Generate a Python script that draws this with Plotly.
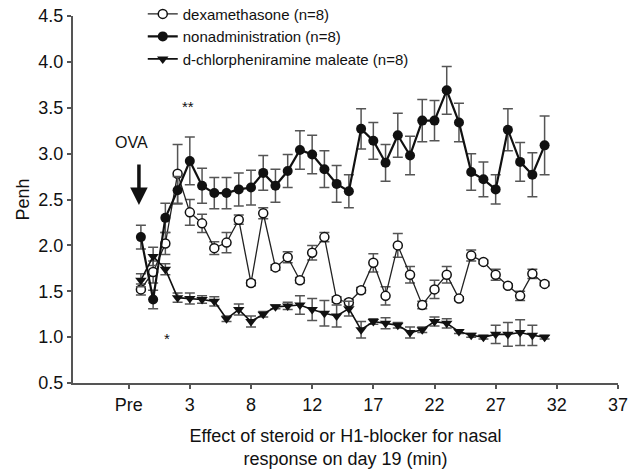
import plotly.graph_objects as go

# Positions of the 34 measurement points (one per minute, index from first point)
x_pos = list(range(34))

tick_vals = [-1, 4, 9, 14, 19, 24, 29, 34, 39]
tick_text = ["Pre", "3", "8", "12", "17", "22", "27", "32", "37"]

dexa = [1.52, 1.71, 2.02, 2.78, 2.36, 2.24, 1.97, 2.03, 2.28, 1.59, 2.35, 1.76, 1.87, 1.62,
        1.92, 2.09, 1.41, 1.38, 1.51, 1.81, 1.45, 2.00, 1.68, 1.35, 1.52, 1.68, 1.42, 1.89,
        1.82, 1.68, 1.56, 1.45, 1.69, 1.58]
dexa_err = [0.06, 0.12, 0.12, 0.32, 0.14, 0.10, 0.07, 0.11, 0.05, 0.03, 0.06, 0.03, 0.06, 0.03,
            0.08, 0.05, 0.03, 0.03, 0.03, 0.10, 0.10, 0.13, 0.09, 0.04, 0.10, 0.09, 0.02, 0.06,
            0.02, 0.06, 0.02, 0.05, 0.05, 0.02]

nonadmin = [2.09, 1.41, 2.30, 2.60, 2.92, 2.65, 2.57, 2.57, 2.61, 2.63, 2.79, 2.65, 2.81, 3.04,
            2.99, 2.83, 2.67, 2.59, 3.27, 3.14, 2.90, 3.20, 2.98, 3.36, 3.36, 3.69, 3.34, 2.80,
            2.72, 2.61, 3.26, 2.91, 2.77, 3.09]
nonadmin_err = [0.13, 0.10, 0.16, 0.15, 0.26, 0.19, 0.17, 0.17, 0.18, 0.19, 0.19, 0.18, 0.18, 0.21,
                0.21, 0.20, 0.20, 0.18, 0.22, 0.20, 0.20, 0.24, 0.21, 0.23, 0.22, 0.26, 0.21, 0.20,
                0.19, 0.16, 0.23, 0.21, 0.24, 0.32]

chlor = [1.62, 1.88, 1.74, 1.43, 1.42, 1.41, 1.39, 1.20, 1.30, 1.17, 1.25, 1.33, 1.34, 1.35,
         1.30, 1.26, 1.23, 1.31, 1.08, 1.17, 1.15, 1.13, 1.05, 1.08, 1.17, 1.15, 1.06, 1.02,
         1.00, 1.03, 1.03, 1.05, 1.02, 1.00]
chlor_err = [0.07, 0.10, 0.06, 0.05, 0.06, 0.04, 0.05, 0.03, 0.06, 0.06, 0.03, 0.02, 0.04, 0.10,
             0.12, 0.14, 0.12, 0.08, 0.09, 0.03, 0.06, 0.03, 0.06, 0.03, 0.05, 0.05, 0.02, 0.02,
             0.02, 0.10, 0.13, 0.14, 0.11, 0.02]

names = ["dexamethasone (n=8)", "nonadministration (n=8)", "d-chlorpheniramine maleate (n=8)"]

FONT = "Liberation Sans, Arial, sans-serif"
ERR = dict(type="data", thickness=1.5, width=5, color="#555555")

fig = go.Figure()
fig.add_trace(go.Scatter(
    x=x_pos, y=dexa, name=names[0], mode="lines+markers",
    line=dict(color="#222222", width=1.3),
    marker=dict(symbol="circle", size=9, color="white", line=dict(color="#111111", width=1.5)),
    error_y=dict(array=dexa_err, **ERR)))
fig.add_trace(go.Scatter(
    x=x_pos, y=nonadmin, name=names[1], mode="lines+markers",
    line=dict(color="#111111", width=2.2),
    marker=dict(symbol="circle", size=10, color="#111111"),
    error_y=dict(array=nonadmin_err, **ERR)))
fig.add_trace(go.Scatter(
    x=x_pos, y=chlor, name=names[2], mode="lines+markers",
    line=dict(color="#111111", width=1.6),
    marker=dict(symbol="triangle-down", size=10, color="#111111"),
    error_y=dict(array=chlor_err, **ERR)))

axis_common = dict(showline=True, linecolor="#555555", linewidth=2, ticks="outside",
                   ticklen=4, tickcolor="#555555", tickwidth=1.5, showgrid=False,
                   zeroline=False, tickfont=dict(family=FONT, size=18, color="#111111"))

fig.update_layout(
    width=629, height=469,
    margin=dict(l=73, r=11, t=16, b=86, autoexpand=False),
    paper_bgcolor="white", plot_bgcolor="white",
    font=dict(family=FONT, color="#111111"),
    xaxis=dict(range=[-5.55, 39], tickvals=tick_vals, ticktext=tick_text,
               title=dict(text="Effect of steroid or H1-blocker for nasal<br>response on day 19 (min)",
                          font=dict(size=18), standoff=18),
               **axis_common),
    yaxis=dict(range=[0.5, 4.5], tickvals=[0.5, 1.0, 1.5, 2.0, 2.5, 3.0, 3.5, 4.0, 4.5],
               tickformat=".1f",
               title=dict(text="Penh", font=dict(size=18), standoff=4),
               **axis_common),
    showlegend=True,
    legend=dict(x=0.128, y=1.05, xanchor="left", yanchor="top", bgcolor="rgba(0,0,0,0)",
                font=dict(size=15, family=FONT), traceorder="normal", tracegroupgap=0,
                itemwidth=30),
    annotations=[
        dict(x=-0.74, y=3.12, text="OVA", showarrow=False, font=dict(size=16)),
        dict(x=-0.16, y=2.44, ax=0, ay=-42, text="", showarrow=True, arrowhead=2,
             arrowsize=1, arrowwidth=3.5, arrowcolor="#111111"),
        dict(x=3.84, y=3.51, text="**", showarrow=False, font=dict(size=15)),
        dict(x=2.1, y=0.99, text="*", showarrow=False, font=dict(size=15)),
    ],
)

fig.write_html("out.html")
